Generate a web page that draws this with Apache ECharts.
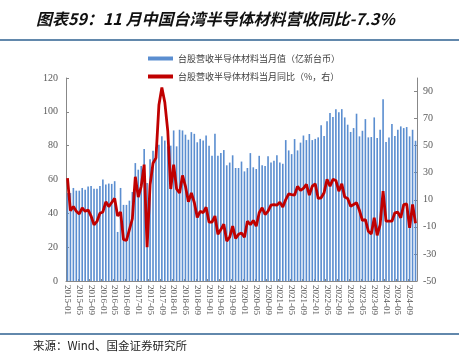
<!DOCTYPE html>
<html><head><meta charset="utf-8">
<script src="https://cdn.jsdelivr.net/npm/echarts@6/dist/echarts.min.js"></script>
<style>
html,body{margin:0;padding:0;background:#fff;}
#c{width:461px;height:359px;}
</style></head>
<body><div id="c"></div>
<script>
// Monthly categories 2015-01 .. 2024-11
var categories = [];
for (var y = 2015; y <= 2024; y++) {
  for (var m = 1; m <= 12; m++) {
    if (y === 2024 && m > 11) break;
    categories.push(y + '-' + (m < 10 ? '0' + m : m));
  }
}
// 台股营收半导体材料当月值（亿新台币）
var monthlyValue = [
  52, 52, 55, 53.4, 53.4, 55, 54, 55.8, 56.2, 54.6, 54.6, 56.2,
  60, 57, 57.6, 57.4, 59, 29, 55, 45, 45, 47.5, 52.6, 69.7,
  65.8, 68, 78, 58, 72, 77, 79, 80.6, 85.5, 83, 79.6, 80,
  89, 79.6, 89.4, 89, 86.5, 83.5, 88, 87, 82, 84, 83, 86,
  80, 74, 87, 74, 75.6, 77.4, 68.4, 70, 74.3, 66.8, 66.8, 70.6,
  64.8, 66.8, 75.6, 67.2, 66.2, 74, 68.4, 68, 73.7, 70.1, 71.1, 74.3,
  70.1, 69.3, 83.3, 77.2, 75, 83.9, 77.2, 81.8, 86, 83.3, 86.9, 83.3,
  84, 84.9, 92, 85.7, 94.4, 99.3, 96.9, 101.6, 99.7, 101.6, 96.7, 92.4,
  88.1, 90.4, 98.9, 85.5, 88.8, 95.7, 84.9, 85.1, 96.7, 84.5, 89.4, 107.5,
  82.1, 84.9, 92.8, 85.7, 89.4, 91.4, 90.4, 91, 85.5, 89.4, 82.9
];
// 台股营收半导体材料当月同比（%，右）
var yoyValue = [
  26, 2, 5, 1.5, -0.5, 4, 1.5, 2.5, -2, -8.5, -6, 0,
  1, 8.5, 5, 8, 11, -2, 1, -19.5, -20, -12, -4, 27,
  12, 20, 36, -25, 21, 37, 41, 80, 93, 82, 61, 18,
  36, 18, 15, 28, 20, 8.5, 15, 8, -3, 1.5, 0.5, 4.5,
  -6.5, -6.5, -2, -15.5, -12, -8, -20.5, -17.5, -9.5, -18.5, -15.5, -14.5,
  -17.7, -5.8, -8.3, -5.3, -9.5, 0.4, 4.1, -0.9, 1.6, 6, 6.5, 6,
  8.3, 4.6, 10.2, 14.4, 13.9, 13.5, 19.9, 16.9, 18.4, 21.4, 13.5, 20.1,
  21.8, 11, 11.5, 15.2, 25.1, 20, 25.1, 24.3, 16.4, 21.8, 12, 11,
  5.3, 6.5, 7.8, 2.1, -5.3, -4.6, -13.2, -15.2, -3.3, -16.2, -8.3, 16.4,
  -5.8, -5.8, -5.8, 0.4, 0.9, -3.3, 6.5, 7, -10.7, 6.5, -7.3
];
var leftTicks = {min: 0, max: 120, interval: 20};
var rightTicks = {min: -50, max: 100, interval: 20};
var seriesNames = ['台股营收半导体材料当月值（亿新台币）', '台股营收半导体材料当月同比（%，右）'];
var titleText = '图表59：11 月中国台湾半导体材料营收同比-7.3%';
var sourceText = '来源：Wind、国金证券研究所';

var chart = echarts.init(document.getElementById('c'), null, {renderer: 'canvas'});
var axisFont = 'Liberation Serif';
chart.setOption({
  animation: false,
  backgroundColor: '#fff',
  title: {
    text: titleText,
    left: 31, top: 6,
    textStyle: {fontFamily: 'Noto Sans CJK SC', fontStyle: 'italic', fontWeight: 'bold', fontSize: 16, color: '#111'}
  },
  graphic: [
    {type: 'line', shape: {x1: 0, y1: 40, x2: 459, y2: 40}, style: {stroke: '#2e6190', lineWidth: 1.5}},
    {type: 'line', shape: {x1: 0, y1: 334, x2: 459, y2: 334}, style: {stroke: '#2e6190', lineWidth: 1.5}},
    {type: 'text', left: 33, top: 340, style: {text: sourceText, font: '11.5px "Noto Sans CJK SC"', fill: '#222'}}
  ],
  legend: {
    orient: 'vertical',
    left: 143, top: 49,
    itemWidth: 25, itemHeight: 4, itemGap: 9,
    textStyle: {fontFamily: 'Noto Sans CJK SC', fontSize: 9, color: '#404040'},
    data: [
      {name: seriesNames[0], icon: 'rect'},
      {name: seriesNames[1], icon: 'rect'}
    ]
  },
  grid: {left: 66, right: 44, top: 78, bottom: 78},
  xAxis: {
    type: 'category',
    data: categories,
    boundaryGap: true,
    axisLine: {lineStyle: {color: '#888'}},
    axisTick: {show: true, interval: 3, length: 2, inside: true, lineStyle: {color: '#888'}},
    axisLabel: {rotate: -90, interval: 3, fontFamily: axisFont, fontSize: 9, color: '#595959', margin: 4}
  },
  yAxis: [
    {
      type: 'value', min: leftTicks.min, max: leftTicks.max, interval: leftTicks.interval,
      axisLine: {show: true, lineStyle: {color: '#888'}},
      axisTick: {show: true, inside: true, length: 3, lineStyle: {color: '#888'}},
      splitLine: {show: false},
      axisLabel: {fontFamily: axisFont, fontSize: 10, color: '#595959', margin: 8}
    },
    {
      type: 'value', min: rightTicks.min, max: rightTicks.max, interval: rightTicks.interval,
      axisLine: {show: true, lineStyle: {color: '#888'}},
      axisTick: {show: true, inside: true, length: 3, lineStyle: {color: '#888'}},
      splitLine: {show: false},
      axisLabel: {fontFamily: axisFont, fontSize: 10, color: '#595959', margin: 6, showMaxLabel: false}
    }
  ],
  series: [
    {
      name: seriesNames[0], type: 'bar', yAxisIndex: 0,
      data: monthlyValue, barWidth: '55%',
      itemStyle: {color: '#5b8ed0'}
    },
    {
      name: seriesNames[1], type: 'line', yAxisIndex: 1,
      data: yoyValue, showSymbol: false, symbol: 'none',
      lineStyle: {color: '#c00000', width: 2.8},
      itemStyle: {color: '#c00000'}
    }
  ]
});
</script>
</body></html>
